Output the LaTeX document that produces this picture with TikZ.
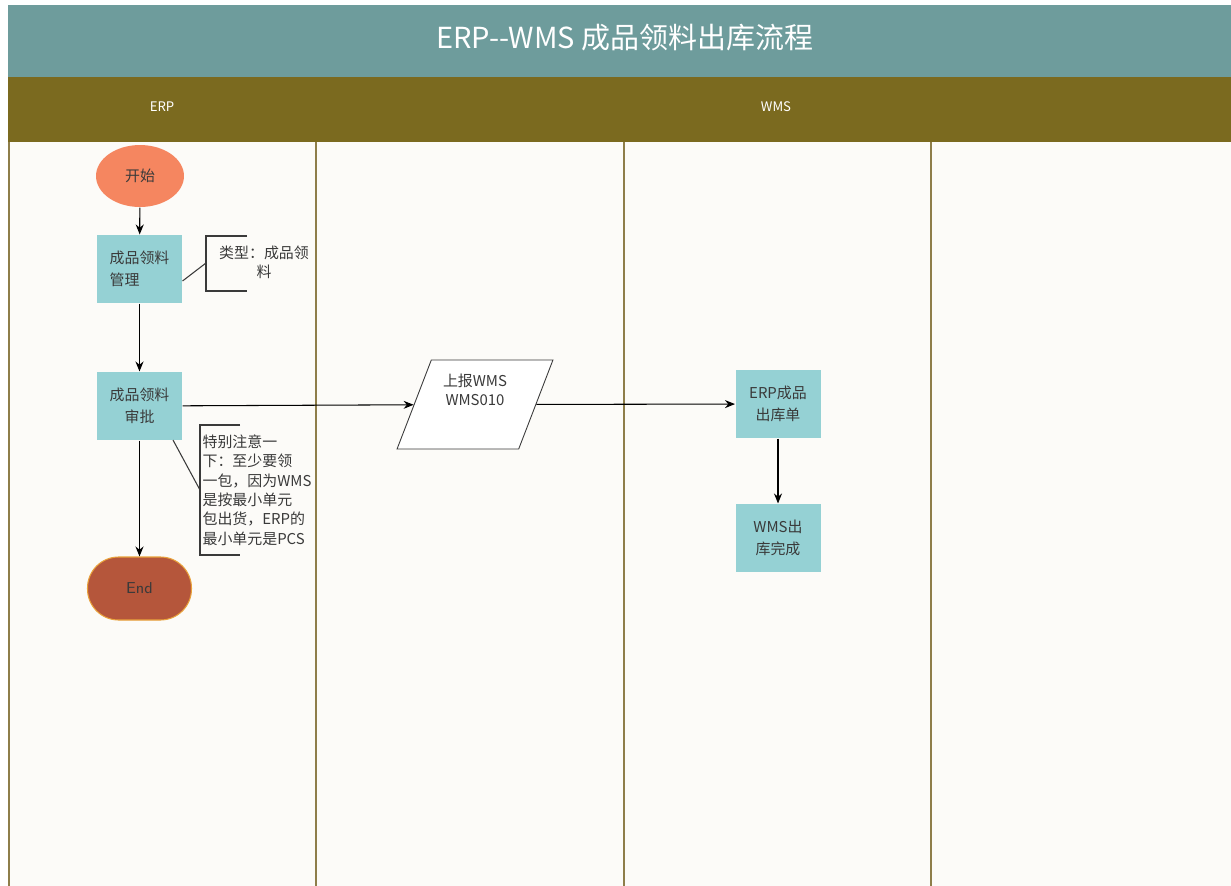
\documentclass[tikz,border=0pt]{standalone}
\usepackage{fontspec}
\newfontfamily\cjk{Noto Sans CJK SC}
\usepackage{xcolor}
\usetikzlibrary{positioning,arrows.meta,shapes.geometric}

\definecolor{titlebg}{HTML}{6E9C9C}
\definecolor{lanehead}{HTML}{7B6A1F}
\definecolor{lanebg}{HTML}{FCFBF8}
\definecolor{laneline}{HTML}{8E7E4A}
\definecolor{startfill}{HTML}{F58660}
\definecolor{procfill}{HTML}{95D1D4}
\definecolor{endfill}{HTML}{B5563B}
\definecolor{endline}{HTML}{E9A23B}
\definecolor{txt}{HTML}{3A3A3A}

\tikzset{
  proc/.style={rectangle, fill=procfill, minimum width=1.7cm, minimum height=1.36cm,
    align=center, text=txt, inner sep=1pt, font=\cjk\fontsize{8.5}{12.5}\selectfont},
  note/.style={align=left, text=txt, inner sep=0pt, font=\cjk\fontsize{8.5}{11}\selectfont},
  lanetitle/.style={text=white, font=\cjk\fontsize{7.5}{8}\selectfont},
}

\begin{document}
\begin{tikzpicture}[x=0.02cm,y=-0.02cm,>={Stealth[length=2mm,width=1.6mm]},line width=0.6pt]
\useasboundingbox (0,0) rectangle (1231,886);
% swimlane frame
\fill[white] (0,0) rectangle (1231,886);
\fill[titlebg] (8,5) rectangle (1231,77);
\fill[lanehead] (8,77) rectangle (1231,142);
\fill[lanebg] (8,142) rectangle (1231,886);
\foreach \x in {9,316,624,931}
  \draw[laneline,line width=0.8pt] (\x,142) -- (\x,886);
\node[text=white,font=\cjk\fontsize{16.5}{20}\selectfont] (title) at (625,38) {ERP--WMS 成品领料出库流程};
\node[lanetitle] (erp) at (162,107) {ERP};
\node[lanetitle] (wms) at (776,107) {WMS};

% ERP lane
\node[ellipse, fill=startfill, minimum width=1.76cm, minimum height=1.24cm, text=txt,
  font=\cjk\fontsize{8.5}{10}\selectfont] (start) at (140,176) {开始};
\node[proc, align=left] (manage) at (139.5,269) {成品领料\\管理};
\node[proc] (review) at (139.5,406) {成品领料\\审批};
\node[rectangle, rounded corners=0.62cm, fill=endfill, draw=endline, line width=0.6pt,
  minimum width=2.08cm, minimum height=1.26cm, text=txt,
  font=\fontsize{9}{10}\selectfont\sffamily] (end) at (139.5,588.5) {End};

\draw[->] (start) -- (manage);
\draw[->] (manage) -- (review);
\draw[->] (review) -- (end);

% notes
\draw[txt] (247,236) -- (206,236) -- (206,291) -- (247,291);
\coordinate (n1) at (206,263);
\node[note, align=center] (note1) at (264,262) {类型：成品领\\料};
\draw[txt] (manage.east |- 0,281) -- (n1);

\draw[txt] (240,425) -- (200,425) -- (200,555) -- (240,555);
\coordinate (n2) at (200,490);
\node[note] (note2) at (257,490) {特别注意一\\下：至少要领\\一包，因为WMS\\是按最小单元\\包出货，ERP的\\最小单元是PCS};
\draw[txt] (173,440) -- (n2);

% WMS side
\node[trapezium, trapezium left angle=68, trapezium right angle=112, trapezium stretches=true,
  draw=txt, fill=white, line width=0.5pt, minimum width=3.12cm, minimum height=1.78cm,
  align=center, text=txt, font=\cjk\fontsize{8.5}{11}\selectfont] (report) at (475,404.5)
  {上报WMS\\WMS010\\[6pt]};
\node[proc] (outbill) at (778,404) {ERP成品\\出库单};
\node[proc] (done) at (778,538) {WMS出\\库完成};

\draw[->] (review) -- (report);
\draw[->] (report) -- (outbill);
\draw[->] (outbill) -- (done);
\end{tikzpicture}
\end{document}
